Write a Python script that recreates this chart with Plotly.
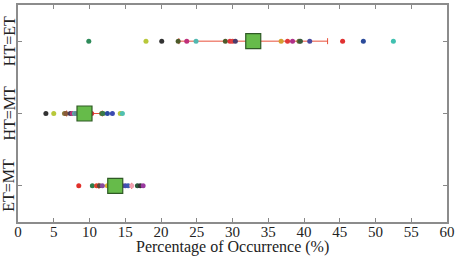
import plotly.graph_objects as go

categories = ["ET=MT", "HT=MT", "HT=ET"]
cat_pos = [1, 2, 3]

# individual subject values per category
et_mt_vals = [8.5, 10.4, 11.0, 11.4, 11.8, 12.5, 12.9, 14.6, 15.0, 15.4, 15.9, 16.7, 17.1, 17.5]
et_mt_cols = ["#e0302a", "#2e7d4a", "#e0402a", "#5a4a3a", "#8a4aa0", "#d8b030", "#e09a30",
              "#7a4aa0", "#4a4ab0", "#3a5ab0", "#f0a0b0", "#2a5a3a", "#333333", "#9a3aa0"]

ht_mt_vals = [3.9, 5.0, 6.5, 6.7, 7.3, 7.6, 7.9, 8.1, 10.3, 11.7, 11.9, 12.5, 13.2, 14.3, 14.6]
ht_mt_cols = ["#333333", "#b8c83a", "#8a7a3a", "#8a5a3a", "#4a3a5a", "#c0307a", "#50b8b0",
              "#6a8a9a", "#e0303a", "#5a6a2a", "#3a7a4a", "#2a4aa0", "#3a4ab0", "#b8c83a", "#50c0b0"]

ht_et_vals = [9.9, 17.9, 20.1, 22.4, 23.6, 24.9, 29.0, 29.65, 30.0, 30.4, 36.8, 37.7, 38.4,
              39.3, 39.5, 40.8, 45.4, 48.3, 52.5]
ht_et_cols = ["#2e8b5a", "#b8c83a", "#333333", "#4d5a2a", "#c0307a", "#50b8b0", "#4d5a2a",
              "#e0303a", "#e04040", "#4b3a6a", "#d4a030", "#e03a3a", "#b0308a", "#6b6b30",
              "#3a5a3a", "#4a4aa0", "#e03030", "#2a4a9a", "#40c0b0"]

means = [13.6, 9.3, 32.9]
stds = [2.3, 2.5, 10.4]

x_ticks = list(range(0, 61, 5))
x_title = "Percentage of Occurrence (%)"

fig = go.Figure()

# error bars (behind the dots)
fig.add_trace(go.Scatter(
    x=means, y=cat_pos, mode="markers",
    marker=dict(size=1, color="rgba(0,0,0,0)"),
    error_x=dict(type="data", array=stds, color="#e8503a", thickness=1, width=3),
    showlegend=False, hoverinfo="skip"))

for vals, cols, pos in [(et_mt_vals, et_mt_cols, 1), (ht_mt_vals, ht_mt_cols, 2), (ht_et_vals, ht_et_cols, 3)]:
    fig.add_trace(go.Scatter(
        x=vals, y=[pos] * len(vals), mode="markers",
        marker=dict(size=5, color=cols, line=dict(width=0)),
        showlegend=False))

# mean squares
fig.add_trace(go.Scatter(
    x=means, y=cat_pos, mode="markers",
    marker=dict(symbol="square", size=15, color="#66bb4a", line=dict(color="#2f5a25", width=1.2)),
    showlegend=False))

serif = "Liberation Serif"

# category labels, rotated, left of the axis
for name, pos in zip(categories, cat_pos):
    fig.add_annotation(x=0, xref="paper", y=pos, yref="y", text=name, textangle=-90,
                       xanchor="center", yanchor="middle", xshift=-9, showarrow=False,
                       font=dict(size=16, family=serif, color="#222222"))

fig.add_annotation(x=0.5, xref="paper", y=0, yref="paper", text=x_title,
                   xanchor="center", yanchor="middle", yshift=-25, showarrow=False,
                   font=dict(size=16, family=serif, color="#222222"))

fig.update_layout(
    width=460, height=258,
    margin=dict(l=18, r=13, t=5, b=36),
    paper_bgcolor="white", plot_bgcolor="white",
    font=dict(family=serif, color="#222222"),
    xaxis=dict(range=[0, 60], tickvals=x_ticks, ticktext=[str(v) for v in x_ticks],
               ticks="inside", ticklen=4, tickcolor="#888888", showgrid=False, zeroline=False,
               showline=True, linecolor="#8c8c8c", linewidth=1.5, mirror="ticks",
               automargin=False, ticklabelstandoff=-5,
               tickfont=dict(size=15, family=serif)),
    yaxis=dict(range=[0.5, 3.5], tickvals=cat_pos, showticklabels=False,
               ticks="inside", ticklen=4, tickcolor="#888888", showgrid=False, zeroline=False,
               showline=True, linecolor="#8c8c8c", linewidth=1.5, mirror="ticks",
               automargin=False),
)

fig.write_html("out.html")
